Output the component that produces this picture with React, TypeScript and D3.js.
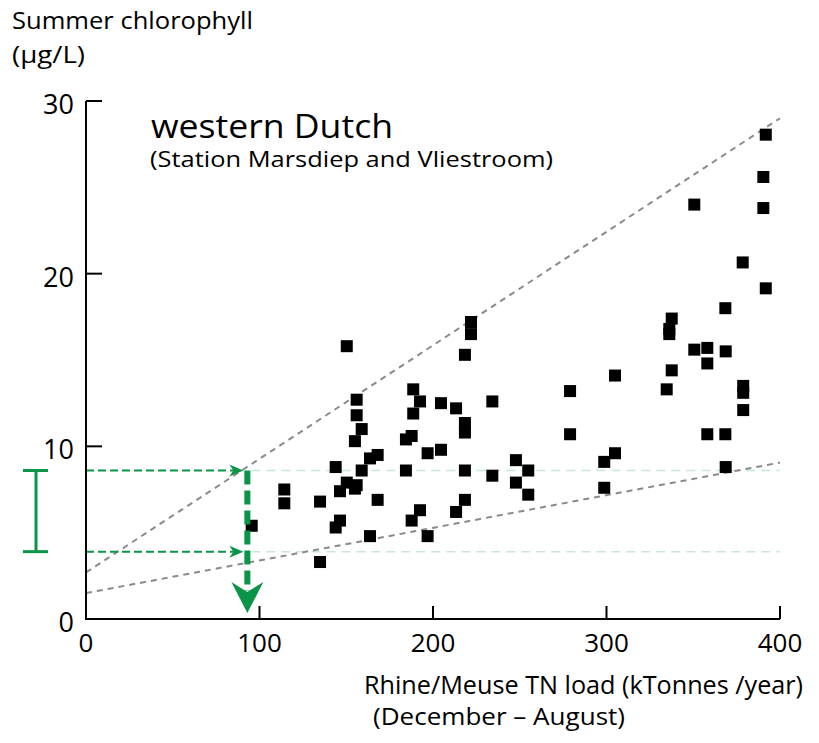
import React from "react";
import * as d3 from "d3";

// Rhine/Meuse TN load (kTonnes/year) vs summer chlorophyll (µg/L)
const loads = [
  150.3, 221.9, 221.9, 218.4, 156.0, 156.0, 158.9, 155.0, 188.6, 192.5,
  188.6, 204.6, 213.3, 234.2, 218.4, 218.4, 187.7, 184.4, 196.9, 204.6,
  168.1, 163.7, 143.9, 158.9, 184.4, 218.4, 234.2, 247.8, 247.8, 150.3,
  156.0, 155.0, 146.4, 114.3, 114.3, 134.9, 168.1, 192.5, 187.7, 213.3,
  218.4, 146.4, 143.9, 95.5, 163.7, 196.9, 134.9, 254.9, 254.9, 279.0,
  279.0, 304.9, 304.9, 298.7, 298.7, 337.6, 336.2, 336.2, 350.6, 358.1,
  368.7, 358.1, 337.6, 334.7, 378.8, 378.8, 378.8, 358.1, 368.5, 368.7,
  391.8, 390.4, 390.4, 350.6, 378.5, 391.8, 368.5,
];
const chlorophyll = [
  15.8, 17.2, 16.5, 15.3, 12.7, 11.8, 11.0, 10.3, 13.3, 12.6,
  11.9, 12.5, 12.2, 12.6, 11.35, 10.8, 10.6, 10.4, 9.6, 9.8,
  9.5, 9.3, 8.8, 8.6, 8.6, 8.6, 8.3, 9.2, 7.9, 7.9,
  7.75, 7.55, 7.4, 7.5, 6.7, 6.8, 6.9, 6.3, 5.7, 6.2,
  6.9, 5.7, 5.3, 5.4, 4.8, 4.8, 3.3, 8.6, 7.2, 13.2,
  10.7, 14.1, 9.6, 9.1, 7.6, 17.4, 16.8, 16.5, 15.6, 15.7,
  15.5, 14.8, 14.4, 13.3, 13.5, 13.1, 12.1, 10.7, 10.7, 8.8,
  28.05, 25.6, 23.8, 24.0, 20.65, 19.15, 18.0,
];

const xTicks = [0, 100, 200, 300, 400];
const yTicks = [0, 10, 20, 30];

// envelope lines: [load, chlorophyll] end points
const upperLine = [[0, 2.7], [400, 29.0]];
const lowerLine = [[0, 1.5], [400, 9.06]];

const targetLoad = 93;
const rangeHigh = 8.6;
const rangeLow = 3.9;

const GREEN = "#0a9447";
const FONT = "'Open Sans', 'Noto Sans', sans-serif";

export default function App() {
  const x = d3.scaleLinear().domain([0, 400]).range([86, 780]);
  const y = d3.scaleLinear().domain([0, 30]).range([619, 101]);
  const line = d3.line<number[]>().x((d) => x(d[0])).y((d) => y(d[1]));
  const sq = 12;
  const xT = x(targetLoad);
  const arrowTipX = xT - 4;

  return (
    <svg
      width={819}
      height={743}
      style={{ position: "absolute", left: 0, top: 0, background: "#fff" }}
      fontFamily={FONT}
    >
      {/* pale guide lines at the range bounds */}
      {[rangeHigh, rangeLow].map((v, i) => (
        <line
          key={"g" + i}
          x1={xT + 4}
          x2={x(400)}
          y1={y(v)}
          y2={y(v)}
          stroke="#c6e8d6"
          strokeWidth={1.5}
          strokeDasharray="9,6"
        />
      ))}

      {/* envelope lines */}
      {[upperLine, lowerLine].map((l, i) => (
        <path
          key={"l" + i}
          d={line(l) || ""}
          fill="none"
          stroke="#8a8a8a"
          strokeWidth={2}
          strokeDasharray="6,5"
        />
      ))}

      {/* data points */}
      {loads.map((lv, i) => (
        <rect
          key={i}
          x={x(lv) - sq / 2}
          y={y(chlorophyll[i]) - sq / 2}
          width={sq}
          height={sq}
          fill="#000"
        />
      ))}

      {/* horizontal green arrows from the y axis */}
      {[rangeHigh, rangeLow].map((v, i) => (
        <g key={"h" + i}>
          <line
            x1={x(0)}
            x2={arrowTipX - 10}
            y1={y(v)}
            y2={y(v)}
            stroke={GREEN}
            strokeWidth={2}
            strokeDasharray="8,4"
          />
          <path
            d={`M${arrowTipX},${y(v)} L${arrowTipX - 14},${y(v) - 6} L${arrowTipX - 10},${y(v)} L${arrowTipX - 14},${y(v) + 6} Z`}
            fill={GREEN}
          />
        </g>
      ))}

      {/* vertical green arrow down to the x axis */}
      <line
        x1={xT}
        x2={xT}
        y1={y(rangeHigh)}
        y2={591}
        stroke={GREEN}
        strokeWidth={6}
        strokeDasharray="14,6"
      />
      <path
        d={`M${xT},613 L${xT - 16},582 L${xT},592 L${xT + 16},582 Z`}
        fill={GREEN}
      />

      {/* range bar on the left */}
      <g stroke={GREEN} strokeWidth={3}>
        <line x1={36} x2={36} y1={y(rangeHigh)} y2={y(rangeLow)} />
        <line x1={23} x2={48} y1={y(rangeHigh)} y2={y(rangeHigh)} />
        <line x1={23} x2={48} y1={y(rangeLow)} y2={y(rangeLow)} />
      </g>

      {/* axes */}
      <g stroke="#000" strokeWidth={2} fill="none">
        <path d={`M${x(0)},${y(30)} V${y(0)} H${x(400)}`} />
        {yTicks.map((t) => (
          <line key={"yt" + t} x1={x(0)} x2={x(0) + 16} y1={y(t)} y2={y(t)} />
        ))}
        {xTicks.map((t) => (
          <line key={"xt" + t} x1={x(t)} x2={x(t)} y1={y(0)} y2={y(0) - 13} />
        ))}
      </g>
      {yTicks.map((t) => (
        <text
          key={"yl" + t}
          x={x(0) - 12}
          y={y(t) + 13}
          textAnchor="end"
          fontSize={27}
          fill="#000"
        >
          {t}
        </text>
      ))}
      {xTicks.map((t) => (
        <text
          key={"xl" + t}
          x={x(t)}
          y={y(0) + 33}
          textAnchor="middle"
          fontSize={26}
          fill="#000"
        >
          {t}
        </text>
      ))}

      {/* titles */}
      <text x={151} y={138} fontSize={32} fill="#000" textLength={242} lengthAdjust="spacingAndGlyphs">
        western Dutch
      </text>
      <text x={150} y={167} fontSize={22} fill="#000" textLength={403} lengthAdjust="spacingAndGlyphs">
        (Station Marsdiep and Vliestroom)
      </text>

      {/* axis labels */}
      <text x={12} y={29} fontSize={24} fill="#000" textLength={241} lengthAdjust="spacingAndGlyphs">
        Summer chlorophyll
      </text>
      <text x={12} y={63} fontSize={24} fill="#000" textLength={73} lengthAdjust="spacingAndGlyphs">
        (µg/L)
      </text>
      <text x={364} y={694} fontSize={25} fill="#000" textLength={439} lengthAdjust="spacingAndGlyphs">
        Rhine/Meuse TN load (kTonnes /year)
      </text>
      <text x={373} y={725} fontSize={24} fill="#000" textLength={252} lengthAdjust="spacingAndGlyphs">
        (December – August)
      </text>
    </svg>
  );
}
